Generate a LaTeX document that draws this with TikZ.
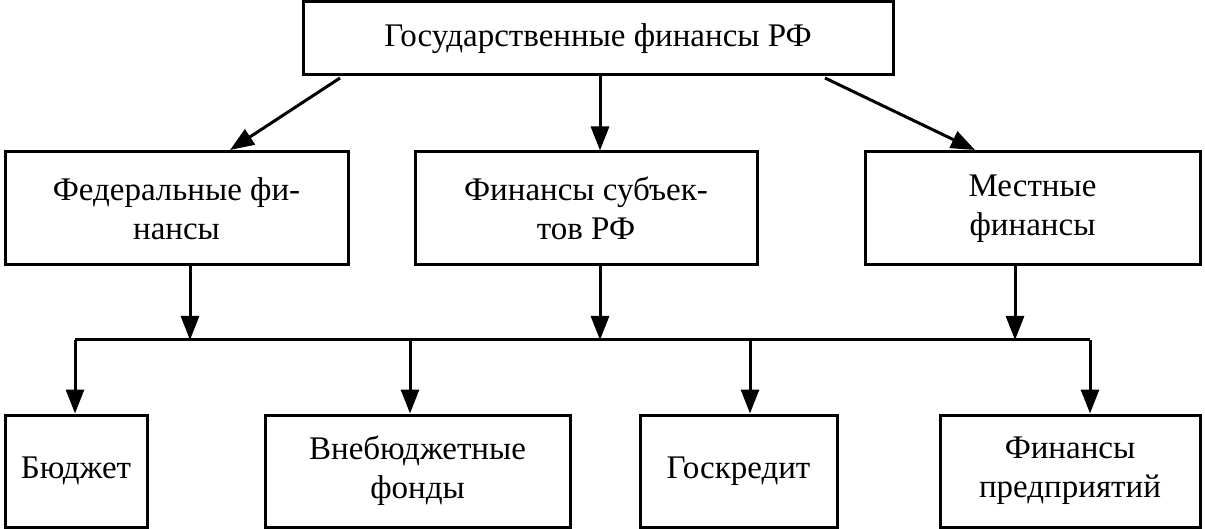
\documentclass[tikz,border=0pt]{standalone}
\usepackage{fontspec}
\setmainfont{Liberation Serif}
\usetikzlibrary{arrows.meta}

\tikzset{
  box/.style={draw,line width=1.5pt,align=center,inner sep=0pt,
    font=\fontsize{16.5}{19.5}\selectfont},
  arr/.style={line width=1.5pt,-{Triangle[length=12pt,width=9pt]}},
}

\begin{document}
\begin{tikzpicture}[x=0.5pt,y=-0.5pt]
  \useasboundingbox (0,0) rectangle (1205,529);
  % top
  \node[box,minimum width=295pt,minimum height=36.5pt] (gos) at (598,38.5) {Государственные финансы РФ};
  % middle row
  \node[box,minimum width=171.5pt,minimum height=56.5pt] (fed) at (176.5,208.5) {Федеральные фи-\\нансы};
  \node[box,minimum width=171pt,minimum height=56.5pt] (sub) at (586,208.5) {Финансы субъек-\\тов РФ};
  \node[box,minimum width=167.5pt,minimum height=56.5pt] (mes) at (1032.5,208.5) {Местные\\финансы};
  % bottom row
  \node[box,minimum width=71pt,minimum height=56pt] (bud) at (76,471) {Бюджет};
  \node[box,minimum width=152.5pt,minimum height=56pt] (vnb) at (417.5,471) {Внебюджетные\\фонды};
  \node[box,minimum width=98.5pt,minimum height=56pt] (gkr) at (738.5,471) {Госкредит};
  \node[box,minimum width=130pt,minimum height=56pt] (fpr) at (1070,471) {Финансы\\предприятий};
  % bus and arrow ends
  \coordinate (bl) at (75,340);
  \coordinate (br) at (1090,340);
  \coordinate (gl) at (340,78);
  \coordinate (gr) at (825,78);
  \coordinate (fl) at (230,150);
  \coordinate (mr) at (975,150);
  \draw[line width=1.5pt] (bl) -- (br);
  % arrows
  \draw[arr] (gl) -- (fl);
  \draw[arr] (gos.south -| 600,0) -- (sub.north -| 600,0);
  \draw[arr] (gr) -- (mr);
  \draw[arr] (fed.south -| 190,0) -- (190,340);
  \draw[arr] (sub.south -| 600,0) -- (600,340);
  \draw[arr] (mes.south -| 1015,0) -- (1015,340);
  \draw[arr] (bl) -- (bud.north -| bl);
  \draw[arr] (410,340) -- (vnb.north -| 410,0);
  \draw[arr] (750,340) -- (gkr.north -| 750,0);
  \draw[arr] (br) -- (fpr.north -| br);
\end{tikzpicture}
\end{document}
